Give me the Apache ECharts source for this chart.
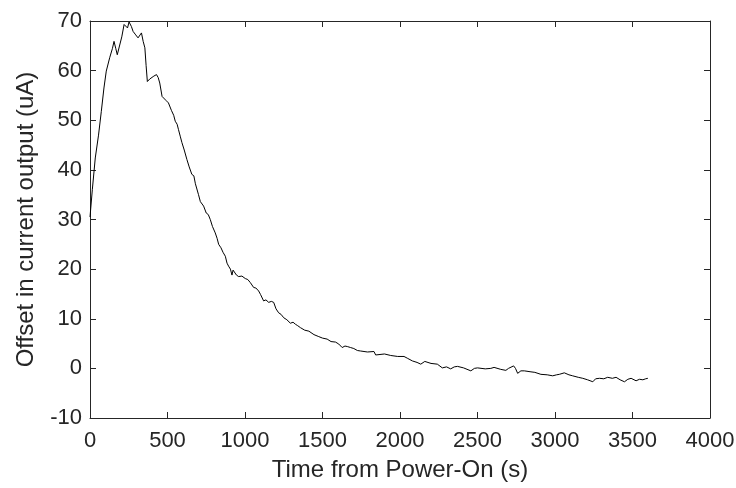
<!DOCTYPE html>
<html>
<head>
<meta charset="utf-8">
<script src="https://cdn.jsdelivr.net/npm/echarts@6/dist/echarts.min.js"></script>
<style>
html, body { margin: 0; padding: 0; background: #fff; }
#chart { width: 736px; height: 488px; }
</style>
</head>
<body>
<div id="chart"></div>
<script>
// time since power-on (s) and offset (uA)
var timeS = [0, 15, 34, 55, 73, 90, 105, 127, 145, 155, 166, 176, 187, 205, 220, 232, 242, 252, 267, 278,
	295, 310, 322, 332, 343, 354, 362, 370, 385, 396, 412, 429, 440, 450, 465, 474, 490, 506, 525, 540,
	550, 562, 571, 582, 593, 608, 625, 640, 657, 670, 680, 689, 700, 712, 733, 750, 763, 776, 790, 808,
	820, 830, 845, 858, 873, 884, 894, 906, 916, 923, 931, 945, 959, 980, 1002, 1018, 1034, 1045, 1056, 1070,
	1088, 1100, 1120, 1135, 1153, 1170, 1185, 1200, 1217, 1232, 1250, 1270, 1293, 1310, 1325, 1340, 1358, 1385, 1412, 1445,
	1476, 1500, 1530, 1555, 1584, 1605, 1627, 1645, 1660, 1681, 1702, 1725, 1746, 1790, 1832, 1843, 1855, 1900, 1940, 1985,
	2026, 2050, 2080, 2110, 2134, 2145, 2160, 2200, 2241, 2273, 2300, 2327, 2350, 2371, 2410, 2457, 2480, 2500, 2550, 2586,
	2607, 2650, 2683, 2700, 2733, 2745, 2759, 2780, 2802, 2845, 2870, 2909, 2950, 2985, 3010, 3028, 3060, 3071, 3090, 3114,
	3150, 3179, 3210, 3244, 3262, 3287, 3315, 3340, 3370, 3394, 3420, 3448, 3470, 3491, 3523, 3545, 3567, 3585, 3599];
var offsetUA = [30.5, 36, 42.4, 47, 51.8, 56.5, 59.9, 62.6, 64.5, 65.9, 64.5, 63.2, 63.6, 66.8, 69.3, 69.6, 68.6, 69.8, 68.9, 67.9,
	67.2, 66.6, 67.0, 67.6, 65.9, 64.6, 61, 57.8, 58.3, 58.5, 58.9, 59.2, 58.6, 57.5, 54.8, 54.6, 54.0, 53.5, 52.0, 51.0,
	49.8, 49.2, 48.1, 46.8, 45.5, 44.0, 42.1, 40.6, 39.1, 38.8, 37.2, 37.1, 35.0, 33.6, 32.7, 31.3, 31.0, 30.0, 28.6, 27.3,
	26.2, 25.0, 24.3, 23.4, 22.6, 21.2, 20.6, 20.0, 18.8, 19.8, 19.6, 18.8, 18.5, 18.6, 18.1, 17.9, 17.3, 17.0, 16.3, 16.2,
	15.6, 14.9, 13.6, 13.8, 13.3, 13.5, 13.3, 12.0, 11.2, 10.9, 10.2, 9.8, 9.1, 9.3, 8.9, 8.6, 8.2, 7.7, 7.5, 6.8,
	6.4, 6.1, 5.9, 5.4, 5.3, 4.9, 4.2, 4.5, 4.4, 4.2, 4.0, 3.6, 3.5, 3.3, 3.4, 2.7, 3.1, 2.9, 2.6, 2.4,
	2.4, 2.0, 1.5, 1.2, 0.85, 0.85, 1.4, 1.0, 0.85, 0.1, 0.3, -0.1, 0.3, 0.4, 0.1, -0.5, 0.0, 0.1, -0.1, 0.0,
	0.2, -0.2, -0.4, 0.0, 0.5, 0.0, -1.0, -0.5, -0.5, -0.7, -0.8, -1.2, -1.3, -1.5, -1.3, -1.2, -0.9, -0.8, -1.3, -1.5,
	-1.8, -2.0, -2.3, -2.7, -2.1, -2.0, -2.1, -1.8, -2.0, -1.8, -2.3, -2.7, -2.2, -2.0, -2.5, -2.2, -2.3, -2.1, -2.0];

var axisColor = '#262626';
var fontName = '"Liberation Sans", Arial, Helvetica, sans-serif';

var lineData = [];
for (var i = 0; i < timeS.length; i++) {
	lineData.push([timeS[i], offsetUA[i]]);
}

var chart = echarts.init(document.getElementById('chart'), null, { renderer: 'canvas' });

// plain numbers, no thousands separator
var plainNum = function(v) { return String(v); };

// shared look of the boxed (MATLAB style) axes
var boxAxis = function(extra) {
	var base = {
		type : 'value',
		axisLine : { show : true, onZero : false, lineStyle : { color : axisColor, width : 1 } },
		axisTick : { show : true, inside : true, length : 6, lineStyle : { color : axisColor } },
		splitLine : { show : false },
		axisLabel : { color : axisColor, fontSize : 22, fontFamily : fontName, formatter : plainNum }
	};
	for (var k in extra) base[k] = extra[k];
	return base;
};

var option = {
	animation : false,
	backgroundColor : '#ffffff',
	grid : {
		left : 90,
		right : 26,
		top : 21,
		bottom : 70,
		containLabel : false,
		outerBoundsMode : 'none'
	},
	xAxis : [
		boxAxis({
			min : 0, max : 4000, interval : 500,
			name : 'Time from Power-On (s)',
			nameLocation : 'middle',
			nameGap : 40,
			nameTextStyle : { color : axisColor, fontSize : 24, fontFamily : fontName },
			axisLabel : { color : axisColor, fontSize : 22, fontFamily : fontName, margin : 12, formatter : plainNum }
		}),
		boxAxis({
			min : 0, max : 4000, interval : 500, position : 'top',
			axisLabel : { show : false }
		})
	],
	yAxis : [
		boxAxis({
			min : -10, max : 70, interval : 10,
			name : 'Offset in current output (uA)',
			nameLocation : 'middle',
			nameGap : 52,
			nameTextStyle : { color : axisColor, fontSize : 24, fontFamily : fontName },
			axisLabel : { color : axisColor, fontSize : 22, fontFamily : fontName, margin : 8, formatter : plainNum }
		}),
		boxAxis({
			min : -10, max : 70, interval : 10, position : 'right',
			axisLabel : { show : false }
		})
	],
	series : [ {
		type : 'line',
		data : lineData,
		symbol : 'none',
		smooth : false,
		lineStyle : { color : '#000000', width : 1 }
	} ]
};
chart.setOption(option);
</script>
</body>
</html>
